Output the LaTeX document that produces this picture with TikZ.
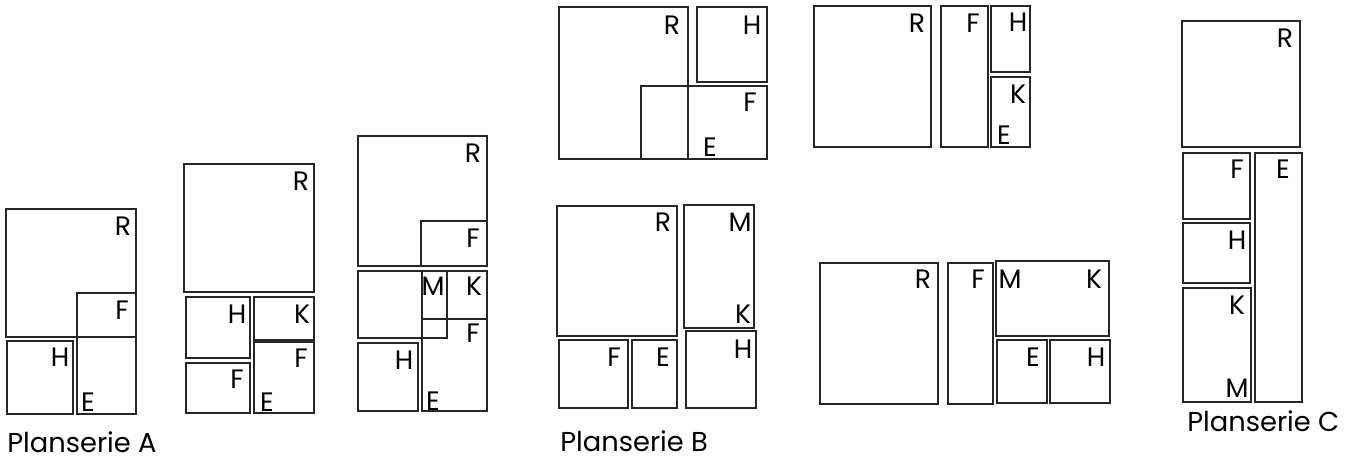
\documentclass[tikz,border=0pt]{standalone}
\usepackage{fontspec}
\newfontfamily\lblfont{Poppins}
\begin{document}
\begin{tikzpicture}[x=0.75pt,y=-0.75pt,
  room/.style={draw=black!85, line width=1.1pt},
  lbl/.style={font=\lblfont\fontsize{20}{20}\selectfont, inner sep=0pt, anchor=center},
  ttl/.style={font=\lblfont\fontsize{20.5}{20.5}\selectfont, inner sep=0pt, anchor=base west}]
\useasboundingbox (0,0) rectangle (1355,462);
% ---- Planserie A, plan 1
\draw[room] (6,209) rectangle (136,337);
\draw[room] (77,293) rectangle (136,414);
\draw[room] (7,341) rectangle (73,414);
\node[lbl] (a1r) at (123,226) {R};
\node[lbl] (a1f) at (122,310) {F};
\node[lbl] (a1h) at (60,357) {H};
\node[lbl] (a1e) at (88,402) {E};
\node[ttl] (ta) at (7,452) {Planserie A};
% ---- Planserie A, plan 2
\draw[room] (184,164) rectangle (314,292);
\draw[room] (186,297) rectangle (250,358);
\draw[room] (186,363) rectangle (250,413);
\draw[room] (254,297) rectangle (314,340);
\draw[room] (254,342) rectangle (314,413);
\node[lbl] (a2r) at (301,181) {R};
\node[lbl] (a2h) at (237,314) {H};
\node[lbl] (a2k) at (302,314) {K};
\node[lbl] (a2f) at (301,358) {F};
\node[lbl] (a2g) at (237,379) {F};
\node[lbl] (a2e) at (267,402) {E};
% ---- Planserie A, plan 3
\draw[room] (358,136) rectangle (487,266);
\draw[room] (421,221) rectangle (487,266);
\draw[room] (358,271) rectangle (447,338);
\draw[room] (422,271) rectangle (447,319);
\draw[room] (447,271) rectangle (487,319);
\draw[room] (422,319) rectangle (487,411);
\draw[room] (358,343) rectangle (418,411);
\node[lbl] (a3r) at (473,153) {R};
\node[lbl] (a3f) at (473,238) {F};
\node[lbl] (a3m) at (433,286) {M};
\node[lbl] (a3k) at (474,286) {K};
\node[lbl] (a3g) at (473,333) {F};
\node[lbl] (a3h) at (404,360) {H};
\node[lbl] (a3e) at (433,401) {E};
% ---- Planserie B, top
\draw[room] (559,7) rectangle (688,159);
\draw[room] (641,86) rectangle (767,159);
\draw[room] (697,7) rectangle (767,82);
\node[lbl] (b1r) at (672,25) {R};
\node[lbl] (b1h) at (752,25) {H};
\node[lbl] (b1f) at (750,102) {F};
\node[lbl] (b1e) at (710,147) {E};
% ---- Planserie B, bottom
\draw[room] (557,206) rectangle (677,336);
\draw[room] (559,340) rectangle (628,408);
\draw[room] (632,340) rectangle (677,408);
\draw[room] (684,205) rectangle (754,328);
\draw[room] (686,331) rectangle (756,408);
\node[lbl] (b2r) at (663,222) {R};
\node[lbl] (b2m) at (740,222) {M};
\node[lbl] (b2k) at (743,314) {K};
\node[lbl] (b2h) at (743,349) {H};
\node[lbl] (b2f) at (614,357) {F};
\node[lbl] (b2e) at (663,357) {E};
\node[ttl] (tb) at (560,451) {Planserie B};
% ---- top right
\draw[room] (814,6) rectangle (931,147);
\draw[room] (941,6) rectangle (988,147);
\draw[room] (991,6) rectangle (1030,72);
\draw[room] (991,77) rectangle (1030,147);
\node[lbl] (b3r) at (917,23) {R};
\node[lbl] (b3f) at (973,23) {F};
\node[lbl] (b3h) at (1018,22) {H};
\node[lbl] (b3k) at (1018,94) {K};
\node[lbl] (b3e) at (1004,135) {E};
% ---- bottom right
\draw[room] (820,263) rectangle (938,404);
\draw[room] (948,263) rectangle (993,404);
\draw[room] (996,261) rectangle (1109,336);
\draw[room] (997,340) rectangle (1047,403);
\draw[room] (1050,340) rectangle (1110,403);
\node[lbl] (b4r) at (923,279) {R};
\node[lbl] (b4f) at (978,279) {F};
\node[lbl] (b4m) at (1010,279) {M};
\node[lbl] (b4k) at (1094,279) {K};
\node[lbl] (b4e) at (1033,357) {E};
\node[lbl] (b4h) at (1096,357) {H};
% ---- Planserie C
\draw[room] (1182,21) rectangle (1300,147);
\draw[room] (1183,153) rectangle (1250,219);
\draw[room] (1183,223) rectangle (1250,283);
\draw[room] (1183,288) rectangle (1251,402);
\draw[room] (1255,153) rectangle (1302,402);
\node[lbl] (cr) at (1285,38) {R};
\node[lbl] (cf) at (1237,169) {F};
\node[lbl] (ce) at (1283,169) {E};
\node[lbl] (ch) at (1237,240) {H};
\node[lbl] (ck) at (1237,305) {K};
\node[lbl] (cm) at (1237,388) {M};
\node[ttl] (tc) at (1187,431) {Planserie C};
\end{tikzpicture}
\end{document}
